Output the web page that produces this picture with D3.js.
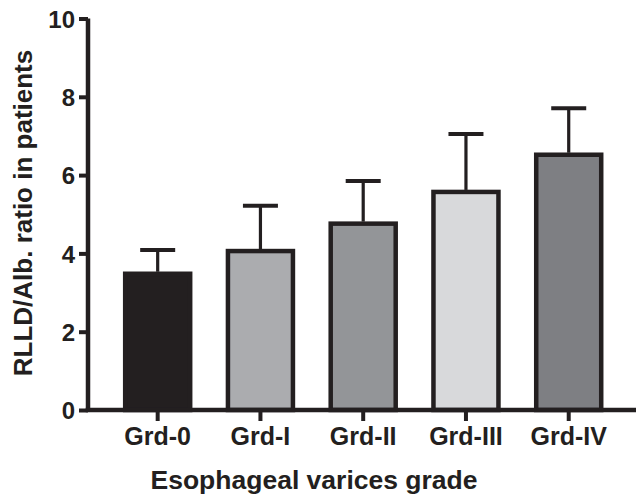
<!DOCTYPE html>
<html>
<head>
<meta charset="utf-8">
<script src="https://cdn.jsdelivr.net/npm/d3@7"></script>
<style>
  body { margin: 0; background: #fff; }
  text { font-family: "Liberation Sans", Arial, sans-serif; font-weight: bold; fill: #231f20; }
</style>
</head>
<body>
<svg id="chart" width="638" height="498"></svg>
<script>
const grades = ["Grd-0", "Grd-I", "Grd-II", "Grd-III", "Grd-IV"];
const means = [3.48, 4.06, 4.76, 5.57, 6.52];
const upperErr = [4.09, 5.22, 5.85, 7.05, 7.71];
const fills = ["#231f20", "#abacaf", "#939598", "#d8d9db", "#7e7f83"];
const yTicks = [0, 2, 4, 6, 8, 10];

const ink = "#231f20";
const svg = d3.select("#chart");

const x = d3.scaleBand().domain(grades).range([106.3, 620.1]).padding(0);
const y = d3.scaleLinear().domain([0, 10]).range([410, 18.5]);

const barW = 65;

// bars
svg.selectAll("rect.bar")
  .data(grades)
  .enter()
  .append("rect")
  .attr("class", "bar")
  .attr("x", d => x(d) + x.bandwidth() / 2 - barW / 2)
  .attr("y", (d, i) => y(means[i]))
  .attr("width", barW)
  .attr("height", (d, i) => y(0) - y(means[i]))
  .attr("fill", (d, i) => fills[i])
  .attr("stroke", ink)
  .attr("stroke-width", 4.5);

// error bars (upper only)
const err = svg.selectAll("g.err")
  .data(grades)
  .enter()
  .append("g")
  .attr("class", "err");

err.append("line")
  .attr("x1", d => x(d) + x.bandwidth() / 2)
  .attr("x2", d => x(d) + x.bandwidth() / 2)
  .attr("y1", (d, i) => y(means[i]) - 2)
  .attr("y2", (d, i) => y(upperErr[i]))
  .attr("stroke", ink)
  .attr("stroke-width", 3.2);

err.append("line")
  .attr("x1", d => x(d) + x.bandwidth() / 2 - 17.5)
  .attr("x2", d => x(d) + x.bandwidth() / 2 + 17.5)
  .attr("y1", (d, i) => y(upperErr[i]))
  .attr("y2", (d, i) => y(upperErr[i]))
  .attr("stroke", ink)
  .attr("stroke-width", 4);

// y axis
const yAxis = svg.append("g")
  .attr("transform", "translate(88,0)")
  .call(d3.axisLeft(y).tickValues(yTicks).tickSize(9).tickPadding(4).tickFormat(d3.format("d")));
yAxis.select(".domain").attr("stroke", ink).attr("stroke-width", 4.5).attr("d", "M0," + (y(0) + 2) + "V" + y(10));
yAxis.selectAll(".tick line").attr("stroke", ink).attr("stroke-width", 4);
yAxis.selectAll(".tick text").style("font-size", "24px").attr("fill", ink).attr("dy", "0.36em");

// x axis
const xAxis = svg.append("g")
  .attr("transform", "translate(0," + y(0) + ")")
  .call(d3.axisBottom(x).tickSize(11).tickPadding(6));
xAxis.select(".domain").attr("stroke", ink).attr("stroke-width", 4.5).attr("d", "M85.75,0H636");
xAxis.selectAll(".tick line").attr("stroke", ink).attr("stroke-width", 4);
xAxis.selectAll(".tick text").style("font-size", "25px").attr("fill", ink);

// axis titles
svg.append("text")
  .attr("x", 314)
  .attr("y", 489)
  .attr("text-anchor", "middle")
  .style("font-size", "26.5px")
  .text("Esophageal varices grade");

svg.append("text")
  .attr("transform", "translate(32,213) rotate(-90)")
  .attr("text-anchor", "middle")
  .style("font-size", "26px")
  .text("RLLD/Alb. ratio in patients");
</script>
</body>
</html>
